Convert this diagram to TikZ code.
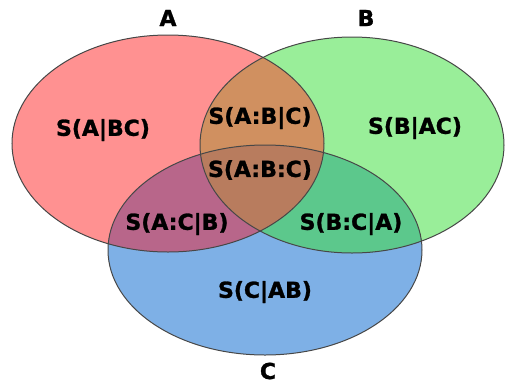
\documentclass[tikz,border=0pt]{standalone}
\usepackage{fontspec}
\setmainfont{DejaVu Sans}
\newfontfamily\heavyfont[FakeBold=1.2]{DejaVu Sans Bold}
\begin{document}
\begin{tikzpicture}[x=1pt,y=-1pt,
  lbl/.style={font=\heavyfont\fontsize{22}{26}\selectfont, text=black, inner sep=0pt},
  rim/.style={draw=black!72, line width=1pt}]
\definecolor{cA}{RGB}{255,145,145}
\definecolor{cB}{RGB}{153,238,153}
\definecolor{cC}{RGB}{126,176,230}
\definecolor{cAB}{RGB}{208,144,96}
\definecolor{cAC}{RGB}{184,102,138}
\definecolor{cBC}{RGB}{92,200,140}
\definecolor{cABC}{RGB}{184,124,94}
\useasboundingbox (0,0) rectangle (508,383);
\def\ellA{(168,143.5) ellipse [x radius=156pt, y radius=108.5pt]}
\def\ellB{(352,145) ellipse [x radius=152pt, y radius=108pt]}
\def\ellC{(265,250) ellipse [x radius=157pt, y radius=105pt]}
\fill[cA] \ellA;
\fill[cB] \ellB;
\fill[cC] \ellC;
\begin{scope}\clip \ellA; \fill[cAB] \ellB; \end{scope}
\begin{scope}\clip \ellA; \fill[cAC] \ellC; \end{scope}
\begin{scope}\clip \ellB; \fill[cBC] \ellC; \end{scope}
\begin{scope}\clip \ellA; \clip \ellB; \fill[cABC] \ellC; \end{scope}
\draw[rim] \ellA;
\draw[rim] \ellB;
\draw[rim] \ellC;
\node[lbl] (tA) at (168,18) {A};
\node[lbl] (tB) at (366,18) {B};
\node[lbl] (tC) at (268,371) {C};
\node[lbl] (abc1) at (103,130) {S(A|BC)};
\node[lbl] (bac) at (415,128) {S(B|AC)};
\node[lbl] (cab) at (265,292) {S(C|AB)};
\node[lbl] (abgc) at (260,118) {S(A:B|C)};
\node[lbl] (abcx) at (260,170) {S(A:B:C)};
\node[lbl] (acgb) at (177,224) {S(A:C|B)};
\node[lbl] (bcga) at (351,224) {S(B:C|A)};
\end{tikzpicture}
\end{document}
